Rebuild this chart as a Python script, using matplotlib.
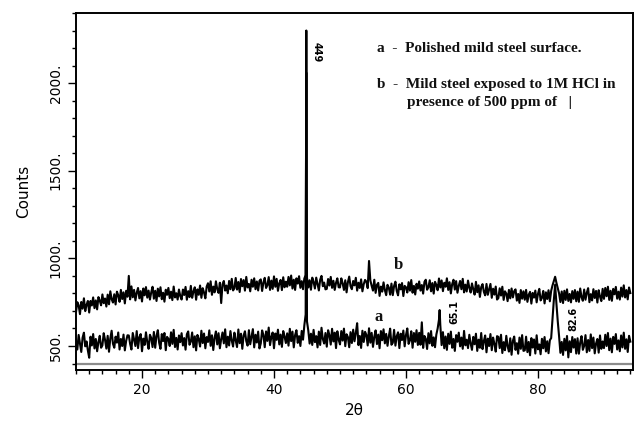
import numpy as np
import matplotlib
matplotlib.use("Agg")
import matplotlib.pyplot as plt
from matplotlib.ticker import MultipleLocator, FixedLocator, FuncFormatter

# scan: 2theta from 10 deg, step 0.2 deg (one row = 4 deg)
start_2theta = 10.0
step_2theta = 0.2

# a - polished mild steel (counts)
a_counts = [
    530, 480, 563, 513, 466, 548, 576, 498, 526, 474, 433, 553, 503, 568, 486, 540, 470, 523, 558, 490,
    503, 573, 535, 485, 558, 467, 543, 587, 513, 490, 553, 519, 577, 480, 540, 500, 565, 475, 529, 561,
    560, 512, 480, 574, 536, 500, 585, 488, 550, 568, 470, 542, 506, 578, 522, 484, 564, 546, 494, 580,
    490, 558, 590, 518, 484, 568, 528, 574, 476, 552, 540, 500, 578, 512, 592, 494, 546, 480, 560, 522,
    573, 503, 545, 479, 567, 583, 507, 525, 577, 493, 555, 475, 563, 539, 497, 587, 517, 571, 487, 551,
    523, 589, 501, 561, 477, 547, 583, 509, 573, 487, 539, 577, 515, 595, 493, 553, 503, 585, 531, 497,
    576, 532, 494, 594, 516, 570, 484, 560, 584, 528, 502, 590, 510, 554, 596, 492, 564, 520, 582, 486,
    515, 589, 563, 493, 583, 529, 605, 505, 551, 577, 487, 571, 535, 593, 509, 565, 495, 585, 555, 517,
    572, 502, 598, 528, 582, 492, 562, 590, 518, 556, 500, 586, 536, 618, 680, 640, 588, 514, 570, 506,
    592, 522, 556, 492, 582, 506, 604, 540, 514, 574, 496, 590, 562, 508, 598, 526, 576, 488, 584, 536,
    509, 585, 531, 599, 499, 567, 551, 493, 579, 517, 593, 527, 575, 630, 505, 557, 489, 587, 523, 581,
    563, 503, 601, 519, 575, 495, 553, 589, 511, 565, 487, 585, 533, 595, 515, 569, 501, 555, 599, 507,
    518, 592, 502, 556, 578, 488, 570, 534, 588, 498, 562, 600, 512, 532, 584, 490, 574, 524, 590, 506,
    575, 507, 635, 489, 557, 541, 483, 573, 515, 585, 501, 549, 493, 565, 600, 650, 620, 505, 579, 487,
    554, 478, 570, 512, 582, 490, 540, 472, 562, 524, 576, 498, 548, 484, 586, 504, 536, 488, 564, 514,
    478, 552, 510, 570, 472, 536, 490, 574, 482, 528, 560, 464, 542, 500, 568, 476, 548, 512, 468, 556,
    552, 488, 564, 460, 522, 476, 558, 498, 468, 544, 450, 530, 554, 478, 516, 456, 548, 484, 562, 472,
    475, 553, 465, 523, 447, 545, 491, 537, 457, 561, 481, 509, 453, 541, 487, 551, 469, 527, 459, 533,
    545, 650, 760, 850, 740, 640, 555, 461, 523, 449, 541, 475, 557, 435, 527, 465, 551, 491, 539, 457,
    544, 456, 520, 556, 478, 500, 562, 464, 534, 472, 566, 488, 548, 458, 514, 540, 462, 560, 484, 526,
    488, 564, 500, 574, 476, 542, 464, 552, 512, 568, 480, 532, 470, 560, 492, 576, 484, 538, 466, 558,
    525,
]

# b - mild steel in 1M HCl with inhibitor
b_counts = [
    693, 750, 733, 682, 751, 713, 772, 699, 735, 757, 691, 757, 731, 777, 716, 760, 709, 779, 759, 732,
    794, 744, 771, 725, 793, 738, 812, 767, 748, 795, 737, 810, 790, 752, 820, 768, 806, 743, 815, 781,
    900, 766, 840, 778, 820, 760, 804, 831, 772, 813, 754, 828, 789, 836, 776, 816, 765, 806, 838, 770,
    815, 757, 827, 783, 835, 767, 804, 753, 821, 792, 831, 773, 810, 762, 839, 777, 801, 765, 822, 785,
    765, 822, 791, 837, 764, 813, 779, 843, 775, 811, 835, 764, 823, 792, 845, 775, 830, 805, 772, 839,
    858, 811, 869, 792, 839, 806, 869, 824, 803, 861, 745, 852, 871, 816, 845, 801, 871, 824, 883, 817,
    829, 888, 822, 865, 808, 882, 841, 876, 816, 894, 834, 854, 812, 878, 838, 886, 824, 868, 817, 872,
    880, 814, 862, 889, 831, 847, 893, 820, 873, 826, 897, 838, 883, 815, 857, 877, 819, 892, 835, 867,
    838, 894, 846, 902, 828, 878, 820, 886, 856, 898, 832, 870, 824, 885, 905, 890, 834, 875, 821, 890,
    865, 828, 890, 852, 817, 878, 900, 841, 862, 823, 826, 882, 845, 894, 832, 872, 820, 860, 886, 835,
    834, 886, 858, 820, 875, 806, 864, 896, 841, 824, 871, 846, 889, 816, 861, 831, 880, 812, 853, 877,
    867, 830, 985, 874, 843, 816, 878, 803, 849, 860, 786, 839, 810, 863, 819, 790, 849, 833, 793, 856,
    790, 843, 867, 814, 789, 852, 823, 859, 785, 843, 835, 805, 864, 816, 876, 804, 843, 794, 855, 827,
    868, 816, 848, 799, 866, 878, 821, 835, 875, 812, 859, 799, 866, 848, 818, 885, 834, 874, 813, 861,
    838, 886, 820, 864, 800, 853, 878, 822, 870, 804, 843, 871, 824, 883, 806, 850, 811, 873, 832, 805,
    857, 823, 793, 866, 807, 846, 780, 836, 853, 809, 789, 854, 792, 823, 854, 775, 827, 793, 839, 765,
    773, 829, 788, 838, 763, 812, 799, 756, 820, 772, 828, 777, 813, 823, 759, 797, 746, 819, 770, 812,
    764, 820, 752, 792, 809, 742, 803, 776, 816, 749, 797, 826, 760, 774, 814, 743, 806, 768, 818, 755,
    815, 845, 870, 895, 860, 830, 800, 751, 811, 745, 815, 763, 823, 757, 797, 749, 813, 769, 819, 755,
    810, 752, 828, 778, 758, 822, 764, 804, 830, 750, 796, 760, 824, 774, 814, 748, 818, 782, 756, 826,
    769, 831, 784, 838, 763, 815, 758, 826, 795, 837, 770, 810, 765, 833, 782, 846, 777, 819, 766, 834,
    802,
]

# peak tops that fall between scan steps
a_peak_x = [44.9, 65.1]
a_peak_y = [2300, 705]
b_peak_x = [44.9]
b_peak_y = [2060]

peak_labels = ["449", "65.1", "82.6"]
peak_label_pos = [(46.4, 2175), (67.4, 695), (85.3, 655)]
peak_label_rot = [-90, 90, 90]


def merge(counts, px, py):
    x = start_2theta + step_2theta * np.arange(len(counts))
    x = np.concatenate([x, px])
    y = np.concatenate([np.asarray(counts, float), py])
    order = np.argsort(x, kind="stable")
    return x[order], y[order]


xa, ya = merge(a_counts, a_peak_x, a_peak_y)
xb, yb = merge(b_counts, b_peak_x, b_peak_y)

fig = plt.figure(figsize=(6.35, 4.22), dpi=100)
ax = fig.add_axes([76 / 635, 52 / 422, 557 / 635, 357 / 422])

ax.plot(xb, yb, color="black", lw=1.5)
ax.plot(xa, ya, color="black", lw=1.5)
ax.axhline(400, color="#8c8c8c", lw=1.6)

ax.set_xlim(10, 94.4)
ax.set_ylim(363, 2400)

ax.xaxis.set_major_locator(FixedLocator([20, 40, 60, 80]))
ax.xaxis.set_minor_locator(MultipleLocator(2))
ax.yaxis.set_major_locator(FixedLocator([500, 1000, 1500, 2000]))
ax.yaxis.set_minor_locator(MultipleLocator(100))
ax.yaxis.set_major_formatter(FuncFormatter(lambda v, p: f"{v:.0f}."))
ax.tick_params(which="both", direction="out", width=1.0, labelsize=10)
ax.tick_params(which="major", length=6)
ax.tick_params(which="minor", length=3)
for lab in ax.get_yticklabels():
    lab.set_rotation(90)
    lab.set_va("center")
for s in ax.spines.values():
    s.set_linewidth(1.4)

ax.set_ylabel("Counts", fontsize=11, labelpad=13)
ax.set_xlabel("2θ", fontsize=11, labelpad=4)

for txt, (tx, ty), rot in zip(peak_labels, peak_label_pos, peak_label_rot):
    ax.text(tx, ty, txt, rotation=rot, ha="center", va="center", fontsize=7, fontweight="bold")

serif = dict(family="Liberation Serif", fontweight="bold", color="#111111")
ax.text(55.6, 2200, "a  -  Polished mild steel surface.", fontsize=11, va="center", **serif)
ax.text(55.6, 1990, "b  -  Mild steel exposed to 1M HCl in", fontsize=11, va="center", **serif)
ax.text(60.2, 1892, "presence of 500 ppm of   |", fontsize=11, va="center", **serif)
ax.text(55.9, 665, "a", fontsize=12, ha="center", va="center", **serif)
ax.text(58.8, 962, "b", fontsize=12, ha="center", va="center", **serif)

fig.savefig("out.png", dpi=100)
